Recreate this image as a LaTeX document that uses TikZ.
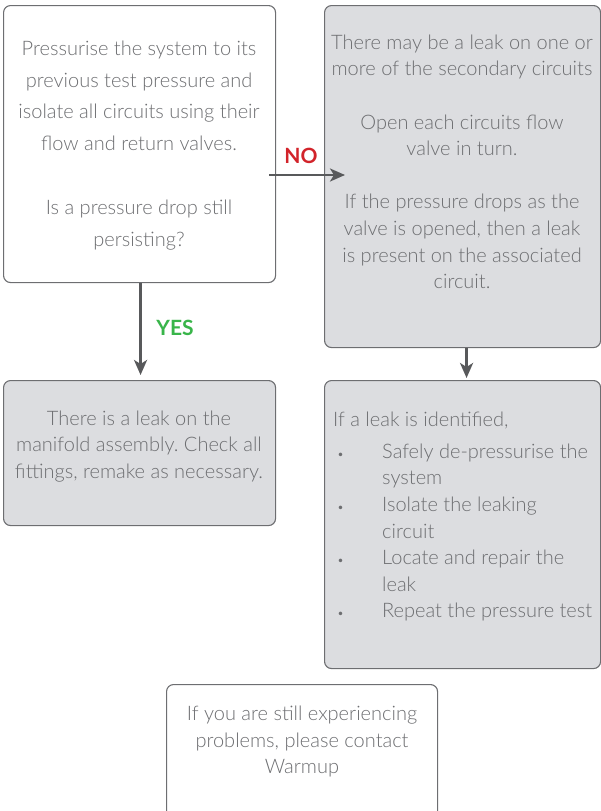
\documentclass[tikz,border=0pt]{standalone}
\usepackage{fontspec}
\setmainfont{Lato Light}
\newfontfamily\lblfont{Lato}
\usetikzlibrary{arrows.meta}
\frenchspacing
\definecolor{txtgray}{HTML}{6D6E71}
\definecolor{boxfill}{HTML}{DCDDE0}
\definecolor{edgegray}{HTML}{6D6E71}
\definecolor{arrgray}{HTML}{58595B}
\definecolor{nored}{HTML}{D2232A}
\definecolor{yesgreen}{HTML}{39B54A}
\tikzset{
  whitebox/.style={draw=edgegray, line width=1.1pt, rounded corners=7pt, fill=white, inner sep=0, anchor=north west},
  greybox/.style={whitebox, fill=boxfill},
  bodytext/.style={text=txtgray, inner sep=0, font=\fontsize{20}{26.6}\selectfont},
  flowarrow/.style={draw=arrgray, line width=2.6pt, -{Stealth[length=15pt,width=13pt,inset=4pt]}},
  lbl/.style={inner sep=0, font=\lblfont\bfseries\fontsize{21}{21}\selectfont}
}
\begin{document}
\begin{tikzpicture}[x=1pt,y=-1pt]
\useasboundingbox (0,0) rectangle (601,811);
% boxes
\node[whitebox, minimum width=272pt, minimum height=277pt] (b1) at (3,5) {};
\node[greybox, minimum width=276pt, minimum height=342pt] (b2) at (324,5) {};
\node[greybox, minimum width=272pt, minimum height=145pt] (b3) at (3,380) {};
\node[greybox, minimum width=276pt, minimum height=288pt] (b4) at (324,380) {};
\node[whitebox, minimum width=271pt, minimum height=160pt] (b5) at (166,684) {};
% texts
\node[bodytext, align=center, anchor=north, font=\fontsize{20}{31.8}\selectfont] (t1) at (139,40.5)
  {Pressurise the system to its\\previous test pressure and\\isolate all circuits using their\\flow and return valves.\\[31.8pt]Is a pressure drop still\\persisting?};
\node[bodytext, align=center, anchor=north] (t2) at (462,34.5)
  {There may be a leak on one or\\more of the secondary circuits\\[26.6pt]Open each circuits flow\\valve in turn.\\[26.6pt]If the pressure drops as the\\valve is opened, then a leak\\is present on the associated\\circuit.};
\node[bodytext, align=center, anchor=north] (t3) at (139,410.5)
  {There is a leak on the\\manifold assembly. Check all\\fittings, remake as necessary.};
\node[bodytext, align=left, anchor=north west] (t4) at (333,411.5)
  {If a leak is identified,\\[5.4pt]
   \makebox[49pt][l]{\hspace{4pt}\fontsize{12}{12}\selectfont\textbullet}Safely de-pressurise the\\
   \hspace*{49pt}system\\
   \makebox[49pt][l]{\hspace{4pt}\fontsize{12}{12}\selectfont\textbullet}Isolate the leaking\\
   \hspace*{49pt}circuit\\
   \makebox[49pt][l]{\hspace{4pt}\fontsize{12}{12}\selectfont\textbullet}Locate and repair the\\
   \hspace*{49pt}leak\\
   \makebox[49pt][l]{\hspace{4pt}\fontsize{12}{12}\selectfont\textbullet}Repeat the pressure test};
\node[bodytext, align=center, anchor=north] (t5) at (302,706)
  {If you are still experiencing\\problems, please contact\\Warmup};
% connectors
\coordinate (noY) at (0,175);
\draw[flowarrow] ([xshift=-7pt]b1.east |- noY) -- ([xshift=21pt]b2.west |- noY);
\draw[flowarrow] ([xshift=1pt]b1.south) -- ([xshift=1pt,yshift=5pt]b3.north);
\draw[flowarrow] ([xshift=4pt]b2.south) -- ([xshift=4pt,yshift=2pt]b4.north);
% labels
\node[lbl, text=nored] (no) at (301,156) {NO};
\node[lbl, text=yesgreen] (yes) at (175,328) {YES};
\end{tikzpicture}
\end{document}
